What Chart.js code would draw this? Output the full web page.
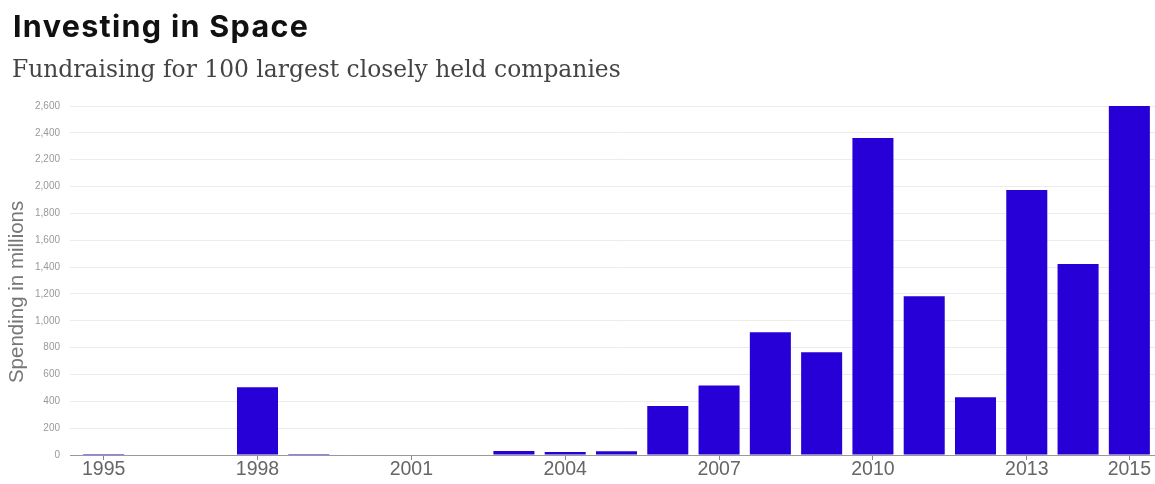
<!DOCTYPE html>
<html>
<head>
<meta charset="utf-8">
<script src="https://cdn.jsdelivr.net/npm/chart.js@4.4.1/dist/chart.umd.min.js"></script>
<style>
  html, body { margin: 0; padding: 0; background: #fff; }
  #wrap { position: relative; width: 1155px; height: 484px; overflow: hidden; }
  #title { position: absolute; left: 13px; top: 11px; font-family: Inter, "Liberation Sans", Arial, sans-serif; font-weight: 700; font-size: 30.5px; letter-spacing: 1.3px; line-height: 1; color: #111; white-space: nowrap; }
  #subtitle { position: absolute; left: 12px; top: 58px; font-family: "DejaVu Serif", serif; font-size: 23.4px; line-height: 1; color: #444; white-space: nowrap; }
  canvas { position: absolute; left: 0; top: 0; }
</style>
</head>
<body>
<div id="wrap">
  <canvas id="c" width="1155" height="484"></canvas>
  <div id="title">Investing in Space</div>
  <div id="subtitle">Fundraising for 100 largest closely held companies</div>
</div>
<script>
const years = ["1995","1996","1997","1998","1999","2000","2001","2002","2003","2004","2005","2006","2007","2008","2009","2010","2011","2012","2013","2014","2015"];
const spending = [8, 0, 0, 505, 8, 0, 0, 0, 30, 22, 28, 365, 518, 915, 765, 2362, 1182, 430, 1975, 1422, 2600];
const labeledYears = ["1995","1998","2001","2004","2007","2010","2013","2015"];
const yMax = 2600;
const yStep = 200;

new Chart(document.getElementById('c'), {
  type: 'bar',
  data: {
    labels: years,
    datasets: [{
      data: spending,
      backgroundColor: '#2600d6',
      borderWidth: 0,
      categoryPercentage: 1.0,
      barPercentage: 0.8
    }]
  },
  options: {
    responsive: false,
    animation: false,
    layout: { padding: { top: 106, left: 0, right: 0, bottom: 0 } },
    plugins: { legend: { display: false }, tooltip: { enabled: false } },
    scales: {
      x: {
        afterFit: s => { s.height = 29; },
        grid: {
          offset: false,
          drawOnChartArea: false,
          drawTicks: true,
          tickLength: 5,
          color: ctx => labeledYears.includes(years[ctx.index]) ? '#888' : 'rgba(0,0,0,0)'
        },
        border: { display: true, color: '#999', width: 1 },
        ticks: {
          autoSkip: false,
          maxRotation: 0,
          padding: -2,
          color: '#666',
          font: { family: '"Liberation Sans", Arial, sans-serif', size: 19.5 },
          callback: function(v, i) { return labeledYears.includes(years[i]) ? years[i] : ''; }
        }
      },
      y: {
        min: 0,
        max: yMax,
        afterFit: s => { s.width = 78; },
        border: { display: false },
        grid: {
          drawTicks: true,
          tickLength: 8,
          color: ctx => ctx.index === 0 ? '#999' : '#ececec',
          lineWidth: 1
        },
        ticks: {
          stepSize: yStep,
          padding: 10,
          color: '#999',
          font: { family: '"Liberation Sans", Arial, sans-serif', size: 10 },
          callback: v => v.toLocaleString('en-US')
        },
        title: {
          display: true,
          text: 'Spending in millions    ',
          color: '#777',
          padding: { top: 5, bottom: 0 },
          font: { family: '"Liberation Sans", Arial, sans-serif', size: 20.5 }
        }
      }
    }
  }
});
</script>
</body>
</html>
